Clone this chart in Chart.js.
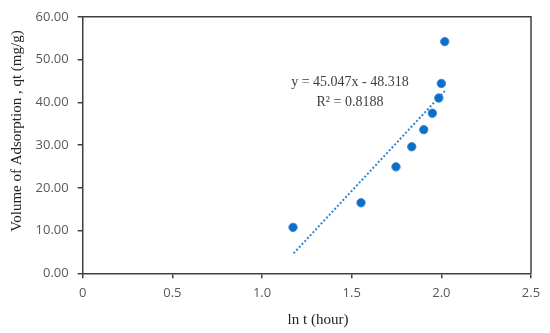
<!DOCTYPE html>
<html>
<head>
<meta charset="utf-8">
<script src="https://cdn.jsdelivr.net/npm/chart.js@4"></script>
<style>
  html, body { margin: 0; padding: 0; background: #fff; }
  #wrap { width: 550px; height: 333px; }
</style>
</head>
<body>
<div id="wrap"><canvas id="kinChart" width="550" height="333"></canvas></div>
<script>
// ln t (hour) vs qt (mg/g)
const lnT = [1.173, 1.552, 1.747, 1.835, 1.902, 1.950, 1.986, 2.000, 2.019];
const qt = [10.75, 16.5, 24.9, 29.6, 33.6, 37.45, 41.0, 44.4, 54.2];

// linear trendline end points
const trendX = [1.176, 2.02];
const trendY = [4.66, 42.67];

const eqText = "y = 45.047x - 48.318";
const r2Text = "R² = 0.8188";
const xTitle = "ln t (hour)";
const yTitle = "Volume of Adsorption , qt (mg/g)";

const axisColor = '#404040';
const serif = '"Liberation Serif", "DejaVu Serif", serif';

// frame + axis titles + equation text
const extras = {
    id: 'extras',
    afterDraw(chart) {
        const ctx = chart.ctx;
        const a = chart.chartArea;
        ctx.save();
        ctx.strokeStyle = axisColor;
        ctx.lineWidth = 1.5;
        ctx.beginPath();
        ctx.moveTo(a.left, a.top);
        ctx.lineTo(a.right, a.top);
        ctx.lineTo(a.right, a.bottom);
        ctx.stroke();

        ctx.fillStyle = '#222';
        ctx.textAlign = 'center';
        ctx.textBaseline = 'middle';
        ctx.font = '15px ' + serif;
        ctx.fillText(xTitle, 318, 320);

        ctx.save();
        ctx.translate(17, 131);
        ctx.rotate(-Math.PI / 2);
        ctx.fillText(yTitle, 0, 0);
        ctx.restore();

        ctx.fillStyle = '#404040';
        ctx.font = '14px ' + serif;
        ctx.fillText(eqText, 350, 82);
        ctx.fillText(r2Text, 350, 102);
        ctx.restore();
    }
};

const ctx = document.getElementById('kinChart').getContext('2d');
new Chart(ctx, {
    type: 'scatter',
    data: {
        datasets: [
            {
                label: 'qt',
                data: lnT.map((x, i) => ({ x: x, y: qt[i] })),
                backgroundColor: '#0B6FC7',
                borderColor: '#3C88D2',
                borderWidth: 1,
                pointRadius: 4.2,
                order: 1
            },
            {
                label: 'trend',
                type: 'line',
                data: trendX.map((x, i) => ({ x: x, y: trendY[i] })),
                borderColor: '#2F84D8',
                borderWidth: 2,
                borderDash: [2, 2],
                pointRadius: 0,
                fill: false,
                order: 2
            }
        ]
    },
    options: {
        responsive: false,
        animation: false,
        layout: { padding: { left: 0, top: 16.5, right: 19, bottom: 0 } },
        plugins: {
            legend: { display: false },
            tooltip: { enabled: false }
        },
        scales: {
            x: {
                type: 'linear',
                min: 0,
                max: 2.5,
                ticks: {
                    stepSize: 0.5,
                    color: '#595959',
                    font: { family: '"Open Sans"', size: 13 },
                    padding: 7,
                    maxRotation: 0
                },
                grid: {
                    drawOnChartArea: false,
                    tickLength: 5,
                    color: axisColor,
                    lineWidth: 1.5
                },
                border: { color: axisColor, width: 1.5 },
                afterFit(scale) { scale.height = 333 - 273.3; }
            },
            y: {
                min: 0,
                max: 60,
                ticks: {
                    stepSize: 10,
                    color: '#595959',
                    font: { family: '"Open Sans"', size: 13 },
                    padding: 9,
                    callback: v => v.toFixed(2)
                },
                grid: {
                    drawOnChartArea: false,
                    tickLength: 5,
                    color: axisColor,
                    lineWidth: 1.5
                },
                border: { color: axisColor, width: 1.5 },
                afterFit(scale) { scale.width = 82.7; }
            }
        }
    },
    plugins: [extras]
});
</script>
</body>
</html>
